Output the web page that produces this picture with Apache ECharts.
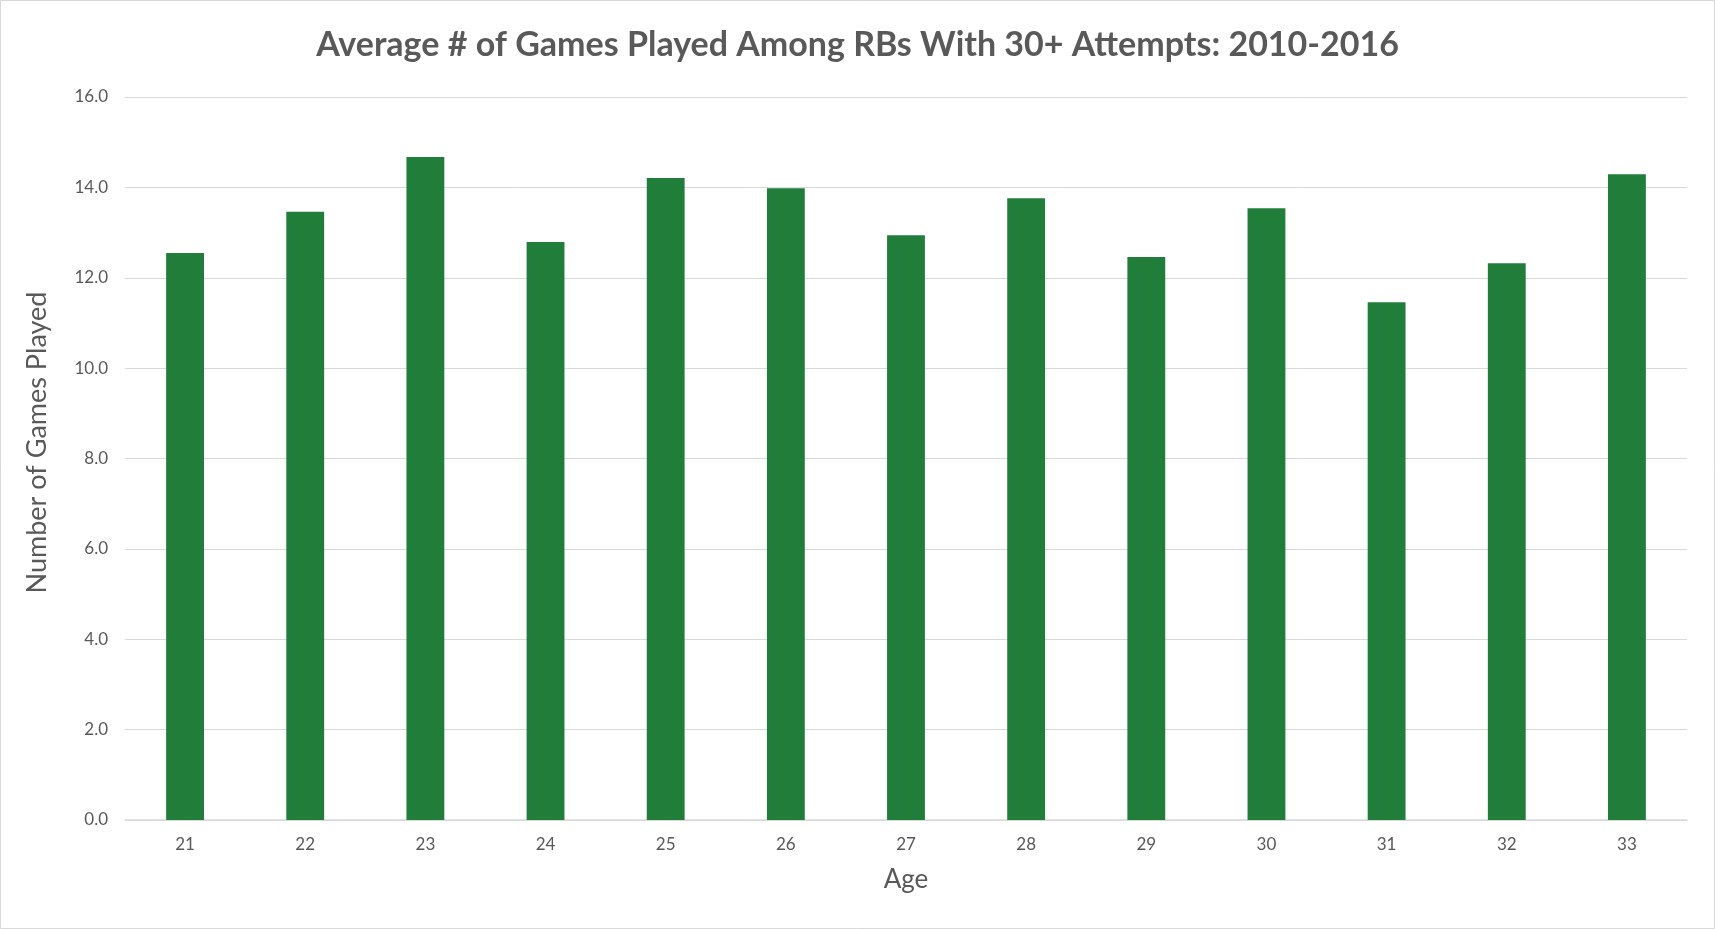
<!DOCTYPE html>
<html>
<head>
<meta charset="utf-8">
<script src="https://cdn.jsdelivr.net/npm/echarts@6/dist/echarts.min.js"></script>
<style>
html,body{margin:0;padding:0;background:#fff;}
#chart{width:1715px;height:929px;}
</style>
</head>
<body>
<div id="chart"></div>
<script>
const titleText = 'Average # of Games Played Among RBs With 30+ Attempts: 2010-2016';
const ages = ['21','22','23','24','25','26','27','28','29','30','31','32','33'];
const gamesPlayed = [12.55, 13.46, 14.67, 12.79, 14.21, 13.98, 12.94, 13.76, 12.46, 13.54, 11.46, 12.32, 14.29];
const yTicks = [0, 2, 4, 6, 8, 10, 12, 14, 16];

const FONT = 'Lato, "Open Sans", sans-serif';
const chart = echarts.init(document.getElementById('chart'));
chart.setOption({
  animation: false,
  backgroundColor: '#ffffff',
  title: {
    text: titleText,
    left: 'center',
    top: 23,
    textStyle: { fontFamily: FONT, fontSize: 34, fontWeight: 'bold', color: '#595959' }
  },
  graphic: [{
    type: 'rect',
    shape: { x: 0.5, y: 0.5, width: 1714, height: 928 },
    style: { fill: 'none', stroke: '#d9d9d9', lineWidth: 1 },
    silent: true
  }],
  grid: { left: 125, right: 28, top: 97, bottom: 109, containLabel: false },
  xAxis: {
    type: 'category',
    data: ages,
    name: 'Age',
    nameLocation: 'middle',
    nameGap: 47,
    nameTextStyle: { fontFamily: FONT, fontSize: 26, color: '#595959' },
    axisLine: { show: true, lineStyle: { color: '#d9d9d9', width: 1.5 } },
    axisTick: { show: false },
    axisLabel: { fontFamily: FONT, fontSize: 17, color: '#595959', margin: 16 }
  },
  yAxis: {
    type: 'value',
    min: yTicks[0],
    max: yTicks[yTicks.length - 1],
    interval: 2,
    name: 'Number of Games Played',
    nameLocation: 'middle',
    nameGap: 74,
    nameTextStyle: { fontFamily: FONT, fontSize: 27, color: '#595959', padding: [0, 0, 0, 32] },
    axisLine: { show: false },
    axisTick: { show: false },
    axisLabel: { fontFamily: FONT, fontSize: 17, color: '#595959', margin: 17, formatter: v => v.toFixed(1) },
    splitLine: { lineStyle: { color: '#d9d9d9', width: 1 } }
  },
  series: [{
    type: 'bar',
    data: gamesPlayed,
    barWidth: '31.5%',
    itemStyle: { color: '#217d3a' }
  }]
});
</script>
</body>
</html>
